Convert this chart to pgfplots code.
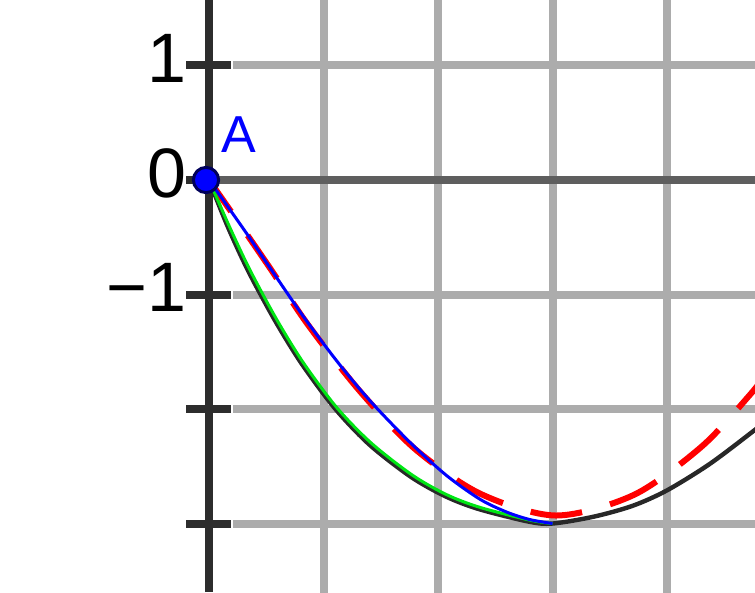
\documentclass[border=0pt]{standalone}
\usepackage{fontspec}
\setmainfont{Liberation Sans}
\usepackage{pgfplots}
\pgfplotsset{compat=1.18}
\definecolor{gridgray}{RGB}{172,172,172}
\definecolor{axisdark}{RGB}{45,45,45}
\definecolor{axismid}{RGB}{94,94,94}
\definecolor{curveblack}{RGB}{40,40,40}
\definecolor{ggreen}{RGB}{0,230,20}
\definecolor{pointedge}{RGB}{0,0,90}
\begin{document}
\begin{tikzpicture}
\begin{axis}[
  scale only axis, width=377.5pt, height=296pt,
  xmin=-1.825, xmax=4.768, ymin=-3.598, ymax=1.572,
  axis x line=none, axis y line=center,
  y axis line style={-, color=axisdark, line width=4pt},
  ytick={-3,-2,-1,0,1}, yticklabels={,,−1,0,1},
  ytick style={color=axisdark, line width=4pt},
  major tick length=22.5pt, tick align=center,
  hide obscured y ticks=false,
  yticklabel style={font=\fontsize{35}{40}\selectfont, anchor=east, inner sep=0pt, xshift=0pt, yshift=3.5pt},
  clip=true,
]
% grid
\draw[gridgray, line width=4pt] (axis cs:1,-3.7) -- (axis cs:1,1.7);
\draw[gridgray, line width=4pt] (axis cs:2,-3.7) -- (axis cs:2,1.7);
\draw[gridgray, line width=4pt] (axis cs:3,-3.7) -- (axis cs:3,1.7);
\draw[gridgray, line width=4pt] (axis cs:4,-3.7) -- (axis cs:4,1.7);
\draw[gridgray, line width=4pt] (axis cs:0.21,1) -- (axis cs:4.9,1);
\draw[gridgray, line width=4pt] (axis cs:0.21,-1) -- (axis cs:4.9,-1);
\draw[gridgray, line width=4pt] (axis cs:0.21,-2) -- (axis cs:4.9,-2);
\draw[gridgray, line width=4pt] (axis cs:0.21,-3) -- (axis cs:4.9,-3);
\draw[axismid, line width=4pt] (axis cs:0,0) -- (axis cs:4.9,0);
% black curve
\addplot[curveblack, line width=2.2pt, smooth] coordinates {
(0,0) (0.165,-0.41) (0.343,-0.795) (0.577,-1.228) (0.81,-1.605) (1.10,-1.995)
(1.40,-2.31) (1.76,-2.59) (2.06,-2.76) (2.35,-2.872) (2.79,-2.983) (3.00,-3.00)
(3.36,-2.94) (3.70,-2.845) (4.00,-2.71) (4.375,-2.478) (4.77,-2.18) (4.90,-2.075)};
% red dashed
\addplot[red, line width=3pt, smooth, dash pattern=on 26pt off 14.5pt, dash phase=6.75pt] coordinates {
(0,0) (0.30,-0.43) (0.54,-0.78) (0.865,-1.265) (1.314,-1.84) (1.80,-2.35)
(2.37,-2.74) (3.03,-2.93) (3.71,-2.75) (4.30,-2.33) (4.72,-1.88) (4.90,-1.65)};
% green
\addplot[ggreen, line width=1.5pt, smooth] coordinates {
(0,0) (0.18,-0.41) (0.36,-0.79) (0.594,-1.223) (0.827,-1.60) (1.118,-1.99)
(1.42,-2.30) (1.78,-2.58) (2.08,-2.75) (2.37,-2.86) (2.80,-2.97) (3.00,-3.00)};
% blue
\addplot[blue, line width=1.5pt, smooth] coordinates {
(0,0) (0.31,-0.44) (0.545,-0.785) (0.83,-1.20) (1.10,-1.56) (1.32,-1.83) (1.51,-2.04)
(1.785,-2.32) (2.08,-2.585) (2.37,-2.79) (2.60,-2.90) (2.80,-2.965) (3.00,-3.00)};
% point A
\addplot[only marks, mark=*, mark size=6.3pt, mark options={fill=blue, draw=pointedge, line width=1.5pt}] coordinates {(-0.026,0)};
\node[blue, font=\fontsize{26}{30}\selectfont, anchor=south west, inner sep=0pt] at (axis cs:0.105,0.236) {A};
\end{axis}
\pgfresetboundingbox
\useasboundingbox (current axis.south west) rectangle (current axis.north east);
\end{tikzpicture}
\end{document}
